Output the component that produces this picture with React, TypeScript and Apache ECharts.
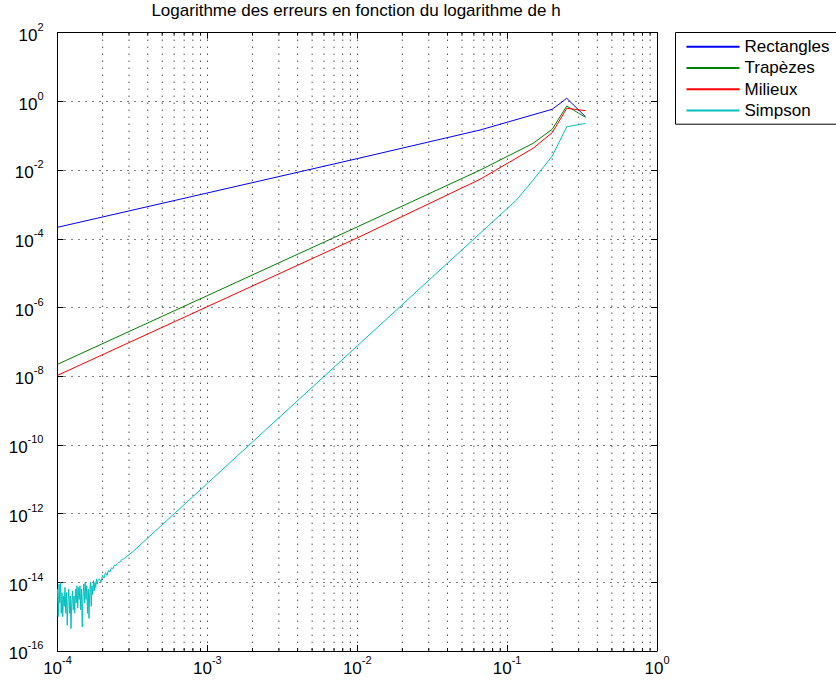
import React, { useEffect, useRef } from 'react';
import * as echarts from 'echarts';

const titleText = 'Logarithme des erreurs en fonction du logarithme de h';
const seriesNames = ['Rectangles', 'Trapèzes', 'Milieux', 'Simpson'];
const seriesColors = ['#0000ff', '#008000', '#ff0000', '#00bfbf'];

const rectH = [1e-4, 1e-3, 1e-2, 0.066, 0.2, 0.25, 0.3333];
const rectErr = [2.16e-4, 2.16e-3, 2.16e-2, 0.147, 0.59, 1.23, 0.359];

const trapH = [1e-4, 1e-3, 1e-2, 0.066, 0.149, 0.2, 0.25, 0.3333];
const trapErr = [2.22e-8, 2.22e-6, 2.22e-4, 0.01, 0.06, 0.155, 0.734, 0.344];

const milH = [1e-4, 1e-3, 1e-2, 0.066, 0.149, 0.2, 0.25, 0.3333];
const milErr = [1.06e-8, 1.06e-6, 1.06e-4, 5.4e-3, 0.0431, 0.123, 0.63, 0.537];

// Simpson, round-off noise region: readings as log10(h) and log10(error)
const simpNoiseLogH = [
  -4.0, -3.995, -3.99, -3.985, -3.98, -3.975, -3.97, -3.965, -3.96, -3.955,
  -3.95, -3.945, -3.94, -3.935, -3.93, -3.925, -3.92, -3.915, -3.91, -3.905,
  -3.9, -3.895, -3.89, -3.885, -3.88, -3.875, -3.87, -3.865, -3.86, -3.855,
  -3.85, -3.845, -3.84, -3.835, -3.83, -3.825, -3.82, -3.815, -3.81, -3.805,
  -3.8, -3.795, -3.79, -3.785, -3.78, -3.775, -3.77, -3.765, -3.76, -3.755,
  -3.75, -3.745, -3.74, -3.735, -3.73, -3.72, -3.71, -3.7, -3.69, -3.68,
  -3.67, -3.66, -3.65, -3.64, -3.63, -3.62, -3.61, -3.6, -3.59, -3.58,
  -3.57, -3.56,
];
const simpNoiseLogErr = [
  -14.2, -15.0, -14.05, -14.6, -14.0, -14.9, -14.3, -15.0, -14.4, -14.7,
  -14.15, -14.9, -14.3, -15.25, -14.5, -14.2, -14.9, -14.4, -15.35, -14.6,
  -14.25, -14.8, -14.4, -14.9, -14.2, -14.6, -14.1, -14.75, -14.15, -14.5,
  -14.1, -14.8, -14.2, -15.3, -14.4, -14.05, -14.6, -14.0, -14.5, -14.1,
  -14.9, -14.2, -15.05, -14.3, -14.0, -14.7, -14.1, -14.35, -13.95, -14.25,
  -14.0, -14.15, -13.9, -14.05, -13.95, -13.9, -14.0, -13.8, -13.88, -13.72,
  -13.8, -13.65, -13.7, -13.58, -13.6, -13.5, -13.52, -13.45, -13.42, -13.4,
  -13.33, -13.32,
];
// Simpson, smooth region
const simpH = [3.162e-4, 1e-3, 1e-2, 0.0316, 0.1, 0.1156, 0.149, 0.2, 0.25, 0.3333];
const simpErr = [7.6e-14, 7.6e-12, 7.6e-8, 7.6e-6, 7.6e-4, 1.35e-3, 5.1e-3, 0.0257, 0.183, 0.229];

const minorTicksX = [
  2e-4, 3e-4, 4e-4, 5e-4, 6e-4, 7e-4, 8e-4, 9e-4,
  2e-3, 3e-3, 4e-3, 5e-3, 6e-3, 7e-3, 8e-3, 9e-3,
  2e-2, 3e-2, 4e-2, 5e-2, 6e-2, 7e-2, 8e-2, 9e-2,
  0.2, 0.3, 0.4, 0.5, 0.6, 0.7, 0.8, 0.9,
];

const FONT = '"Liberation Sans", Arial, Helvetica, sans-serif';

const fmt = (v: number) => {
  const e = Math.round(Math.log10(v));
  return `{b|10}{s|${e}}`;
};

const rich = {
  b: { fontSize: 17, lineHeight: 22.5, fontFamily: FONT, color: '#000', verticalAlign: 'bottom' },
  s: { fontSize: 11, lineHeight: 22.5, fontFamily: FONT, color: '#000', verticalAlign: 'top' },
};

const dotted = { color: '#000', type: [1, 6] as number[], width: 1 };

export default function App() {
  const ref = useRef<HTMLDivElement>(null);
  useEffect(() => {
    if (!ref.current) return;
    const chart = echarts.init(ref.current, null, { renderer: 'svg' });
    const pairs = (h: number[], e: number[]) => h.map((x, i) => [x, e[i]]);
    const simpData = [
      ...simpNoiseLogH.map((lh, i) => [Math.pow(10, lh), Math.pow(10, simpNoiseLogErr[i])]),
      ...pairs(simpH, simpErr),
    ];
    const lineSeries = [
      pairs(rectH, rectErr),
      pairs(trapH, trapErr),
      pairs(milH, milErr),
      simpData,
    ].map((d, i) => ({
      type: 'line',
      name: seriesNames[i],
      data: d,
      symbol: 'none',
      showSymbol: false,
      lineStyle: { width: 1, color: seriesColors[i] },
      itemStyle: { color: seriesColors[i] },
      xAxisIndex: 0,
      yAxisIndex: 0,
      z: 3,
    }));
    chart.setOption({
      animation: false,
      backgroundColor: '#fff',
      title: {
        text: titleText,
        left: 356,
        top: 2,
        padding: 0,
        textAlign: 'center',
        textStyle: { fontSize: 17, fontWeight: 'normal', fontFamily: FONT, color: '#000' },
      },
      legend: {
        data: seriesNames,
        orient: 'vertical',
        left: 675.5,
        top: 32.5,
        itemWidth: 53,
        itemHeight: 1,
        itemGap: 0,
        padding: [3.5, 40, 3, 10],
        borderColor: '#000',
        borderWidth: 1,
        backgroundColor: '#fff',
        selectedMode: false,
        textStyle: { fontSize: 17, lineHeight: 21.3, fontFamily: FONT, color: '#000' },
      },
      grid: { left: 57.5, right: 179, top: 32.7, bottom: 31, containLabel: false },
      xAxis: [
        {
          type: 'log',
          logBase: 10,
          min: 1e-4,
          max: 1,
          interval: 1,
          position: 'bottom',
          axisLine: { show: true, lineStyle: { color: '#000', width: 1 } },
          axisTick: { show: true, inside: true, length: 6, lineStyle: { color: '#000' } },
          axisLabel: { formatter: fmt, rich, margin: 3, showMinLabel: true, showMaxLabel: true },
          splitLine: { show: true, lineStyle: dotted },
        },
        {
          type: 'log',
          logBase: 10,
          min: 1e-4,
          max: 1,
          interval: 1,
          position: 'top',
          axisLine: { show: true, onZero: false, lineStyle: { color: '#000', width: 1 } },
          axisTick: { show: true, inside: true, length: 6, lineStyle: { color: '#000' } },
          axisLabel: { show: false },
          splitLine: { show: false },
        },
      ],
      yAxis: [
        {
          type: 'log',
          logBase: 100,
          min: 1e-16,
          max: 1e2,
          interval: 1,
          splitNumber: 9,
          position: 'left',
          axisLine: { show: true, lineStyle: { color: '#000', width: 1 } },
          axisTick: { show: true, inside: true, length: 6, lineStyle: { color: '#000' } },
          axisLabel: { formatter: fmt, rich, margin: 14, showMinLabel: true, showMaxLabel: true },
          splitLine: { show: true, lineStyle: dotted },
        },
        {
          type: 'log',
          logBase: 100,
          min: 1e-16,
          max: 1e2,
          interval: 1,
          splitNumber: 9,
          position: 'right',
          axisLine: { show: true, onZero: false, lineStyle: { color: '#000', width: 1 } },
          axisTick: { show: true, inside: true, length: 6, lineStyle: { color: '#000' } },
          axisLabel: { show: false },
          splitLine: { show: false },
        },
      ],
      series: [
        {
          type: 'custom',
          name: 'minor',
          silent: true,
          z: 1,
          xAxisIndex: 0,
          yAxisIndex: 0,
          data: minorTicksX.map((v) => [v, 1]),
          encode: { x: 0, y: 1 },
          renderItem: (params: any, api: any) => {
            const x = api.coord([api.value(0), 1])[0];
            const cs = params.coordSys;
            const top = cs.y;
            const bottom = cs.y + cs.height;
            return {
              type: 'group',
              children: [
                {
                  type: 'line',
                  shape: { x1: x, y1: top, x2: x, y2: bottom },
                  style: { stroke: '#000', lineWidth: 1, lineDash: [1, 6] },
                },
                {
                  type: 'line',
                  shape: { x1: x, y1: bottom, x2: x, y2: bottom - 3 },
                  style: { stroke: '#000', lineWidth: 1 },
                },
                {
                  type: 'line',
                  shape: { x1: x, y1: top, x2: x, y2: top + 3 },
                  style: { stroke: '#000', lineWidth: 1 },
                },
              ],
            };
          },
        },
        ...lineSeries,
      ],
    });
    return () => chart.dispose();
  }, []);
  return (
    <div
      ref={ref}
      style={{ position: 'fixed', left: 0, top: 0, width: 836, height: 682, background: '#fff' }}
    />
  );
}
